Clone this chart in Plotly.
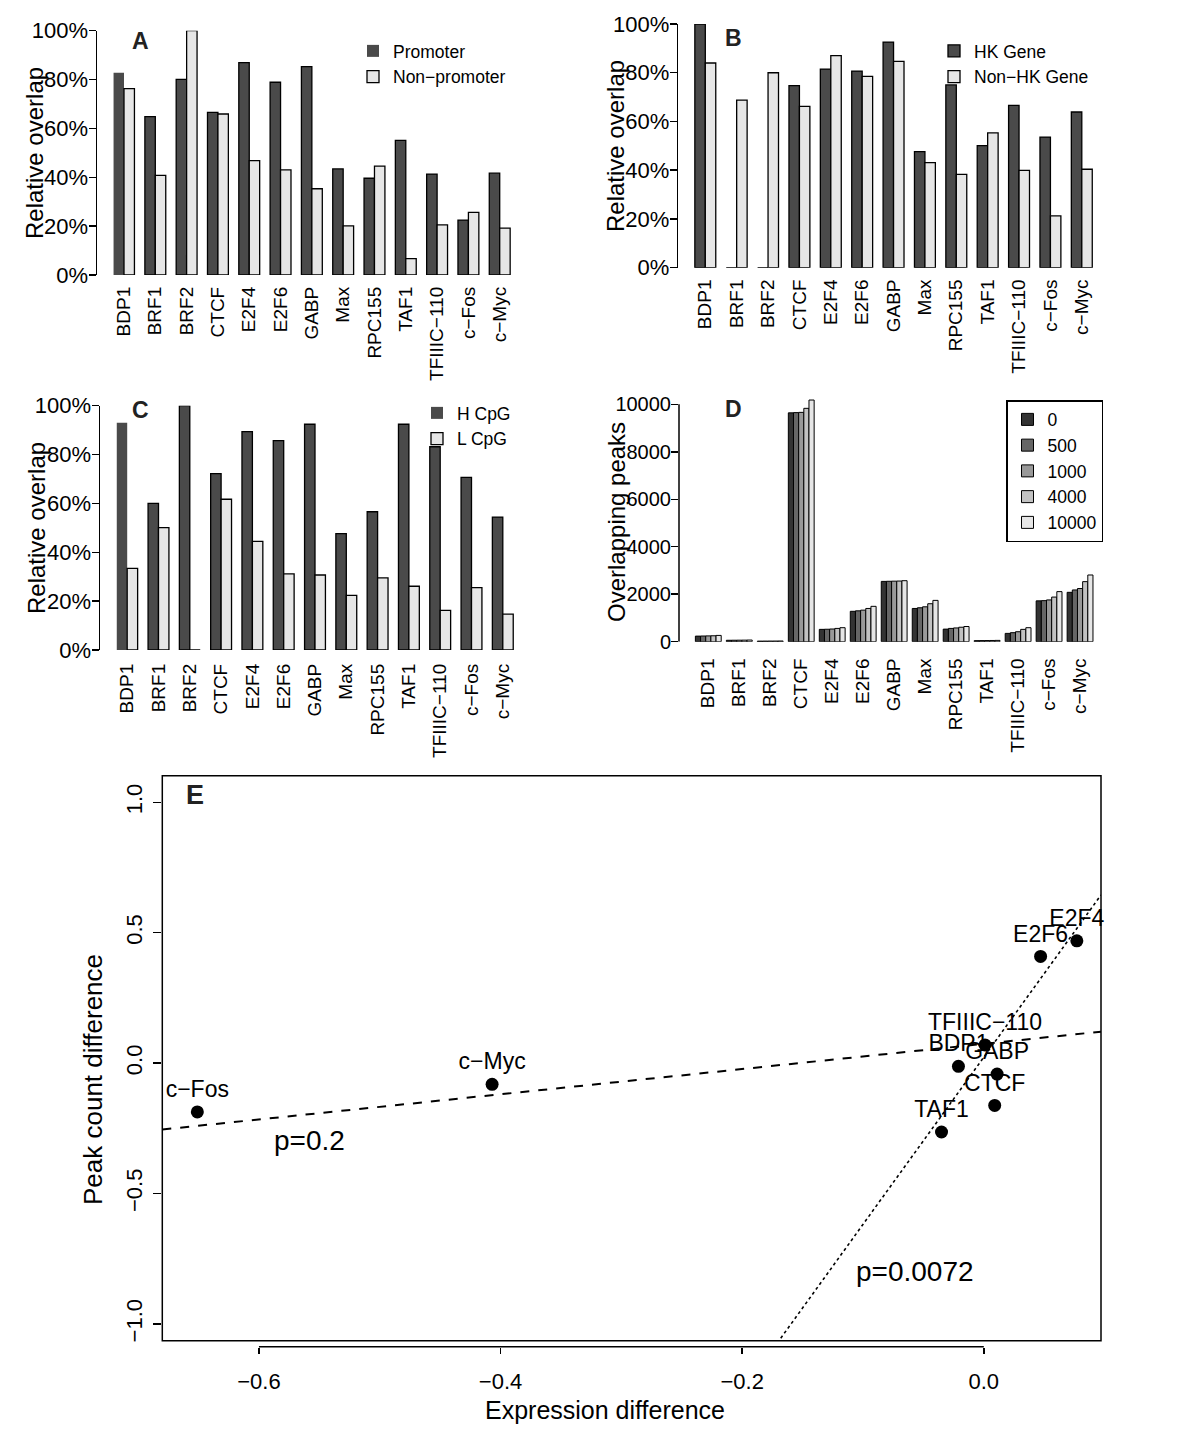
import plotly.graph_objects as go

W, H = 1200, 1454
FONT = "Liberation Sans, Arial, Helvetica, sans-serif"

# ---------------- data ----------------
factors = ["BDP1", "BRF1", "BRF2", "CTCF", "E2F4", "E2F6", "GABP", "Max",
           "RPC155", "TAF1", "TFIIIC−110", "c−Fos", "c−Myc"]

# Panel A
promoter = [82.8, 64.8, 80.1, 66.6, 86.9, 78.9, 85.3, 43.4, 39.6, 55.1, 41.3, 22.5, 41.7]
non_promoter = [76.3, 40.8, 100.0, 65.9, 46.8, 43.0, 35.3, 20.1, 44.6, 6.7, 20.5, 25.6, 19.2]
# Panel B
hk_gene = [100.0, 0, 0, 74.7, 81.5, 80.7, 92.6, 47.6, 75.0, 50.1, 66.6, 53.6, 63.9]
non_hk_gene = [84.0, 68.8, 80.0, 66.2, 87.0, 78.5, 84.7, 43.1, 38.3, 55.3, 39.9, 21.3, 40.4]
# Panel C
h_cpg = [93.0, 60.0, 100.0, 72.2, 89.4, 85.7, 92.4, 47.6, 56.6, 92.4, 83.2, 70.7, 54.4]
l_cpg = [33.4, 50.1, 0, 61.7, 44.5, 31.2, 30.7, 22.4, 29.5, 26.1, 16.2, 25.5, 14.7]
# Panel D (overlapping peaks by window size)
windows = ["0", "500", "1000", "4000", "10000"]
peaks_0 = [235, 60, 25, 9640, 520, 1280, 2540, 1400, 530, 45, 350, 1720, 2080]
peaks_500 = [240, 62, 26, 9650, 525, 1300, 2545, 1430, 560, 47, 380, 1730, 2180]
peaks_1000 = [245, 64, 27, 9660, 535, 1330, 2550, 1470, 580, 49, 420, 1760, 2240]
peaks_4000 = [250, 66, 28, 9830, 560, 1400, 2555, 1600, 610, 52, 520, 1880, 2530]
peaks_10000 = [265, 70, 30, 10180, 590, 1490, 2570, 1740, 640, 55, 590, 2110, 2810]
peaks_by_window = [peaks_0, peaks_500, peaks_1000, peaks_4000, peaks_10000]
# Panel E
e_factors = ["c−Fos", "c−Myc", "E2F4", "E2F6", "TFIIIC−110", "BDP1", "GABP", "CTCF", "TAF1"]
expr_diff = [-0.651, -0.407, 0.077, 0.047, 0.001, -0.021, 0.011, 0.009, -0.035]
peak_diff = [-0.187, -0.081, 0.469, 0.409, 0.070, -0.012, -0.042, -0.162, -0.264]
fit_all = (0.074, 0.483)    # intercept, slope (dashed, p=0.2)
fit_sub = (0.023, 6.41)     # intercept, slope (dotted, p=0.0072)
p_labels = ["p=0.2", "p=0.0072"]
p_pos_x = [-0.558, -0.057]
p_pos_y = [-0.295, -0.797]
pct_ticks = [0, 20, 40, 60, 80, 100]
pct_text = [f"{v}%" for v in pct_ticks]
peak_ticks = [0, 2000, 4000, 6000, 8000, 10000]
e_xticks = [-0.6, -0.4, -0.2, 0.0]
e_yticks = [-1.0, -0.5, 0.0, 0.5, 1.0]

DARK = "#4A4A4A"
LIGHT = "#E6E6E6"
D_COLORS = ["#333333", "#666666", "#999999", "#C2C2C2", "#E6E6E6"]


def px_x(p):
    return p / W


def px_y(p):
    return 1 - p / H


fig = go.Figure()

# ---------------- bar panels A-C ----------------
panels = [
    ("", promoter, non_promoter, "Promoter", "Non−promoter", "legend"),
    ("2", hk_gene, non_hk_gene, "HK Gene", "Non−HK Gene", "legend2"),
    ("3", h_cpg, l_cpg, "H CpG", "L CpG", "legend3"),
]
bw = 1 / 3
for suf, s1, s2, n1, n2, lg in panels:
    lw1 = [1.3] * len(factors)
    if suf in ("", "3"):
        lw1[0] = 0
    fig.add_trace(go.Bar(x=factors, y=s1, name=n1, width=bw, offset=-bw,
                         marker=dict(color=DARK, line=dict(color="black", width=lw1)),
                         xaxis="x" + suf, yaxis="y" + suf, legend=lg, hoverinfo="skip"))
    fig.add_trace(go.Bar(x=factors, y=s2, name=n2, width=bw, offset=0,
                         marker=dict(color=LIGHT, line=dict(color="black", width=1.3)),
                         xaxis="x" + suf, yaxis="y" + suf, legend=lg, hoverinfo="skip"))

# ---------------- panel D ----------------
wd = 1 / 6
for k, (wname, vals) in enumerate(zip(windows, peaks_by_window)):
    fig.add_trace(go.Bar(x=factors, y=vals, name=wname, width=wd, offset=-2.5 * wd + k * wd,
                         marker=dict(color=D_COLORS[k], line=dict(color="black", width=1.0)),
                         xaxis="x4", yaxis="y4", legend="legend4", hoverinfo="skip"))

# ---------------- panel E ----------------
E_XR = [-0.680, 0.097]
E_YR = [-1.064, 1.102]
for (a, b), dash, lw in [(fit_all, "dash", 2.0), (fit_sub, "dot", 1.6)]:
    fig.add_trace(go.Scatter(x=E_XR, y=[a + b * E_XR[0], a + b * E_XR[1]], mode="lines",
                             line=dict(color="black", dash=dash, width=lw),
                             xaxis="x5", yaxis="y5", showlegend=False, hoverinfo="skip"))
fig.add_trace(go.Scatter(x=expr_diff, y=peak_diff, mode="markers+text", text=e_factors,
                         textposition="top center", textfont=dict(size=23, color="black"),
                         marker=dict(color="black", size=13),
                         xaxis="x5", yaxis="y5", showlegend=False, cliponaxis=False,
                         hoverinfo="skip"))


# ---------------- axes ----------------
def cat_axis(c0, pitch, left, right):
    return dict(domain=[px_x(left), px_x(right)],
                range=[(left - c0) / pitch, (right - c0) / pitch])


tickfont_cat = dict(size=19, color="black", family=FONT)
cat_common = dict(type="category", showline=False, ticks="", tickangle=-90,
                  tickfont=tickfont_cat, showgrid=False, zeroline=False, automargin=False)
pct_common = dict(range=[0, 100], tickvals=pct_ticks, ticktext=pct_text, showline=True,
                  linecolor="black", linewidth=1.5, ticks="outside", ticklen=7, tickwidth=1.5,
                  tickcolor="black", tickfont=dict(size=22, color="black"), showgrid=False,
                  zeroline=False, automargin=False, ticklabelstandoff=-4)

ax = cat_axis(124.0, 31.31, 97, 535)
fig.update_layout(xaxis=dict(**cat_common, **ax, anchor="y", ticklabelstandoff=7))
fig.update_layout(yaxis=dict(**pct_common, domain=[px_y(275), px_y(30.7)], anchor="x"))

ax = cat_axis(705.3, 31.375, 678.3, 1120)
fig.update_layout(xaxis2=dict(**cat_common, **ax, anchor="y2", ticklabelstandoff=7))
fig.update_layout(yaxis2=dict(**pct_common, domain=[px_y(267.7), px_y(24)], anchor="x2"))

ax = cat_axis(127.2, 31.3, 100, 535)
fig.update_layout(xaxis3=dict(**cat_common, **ax, anchor="y3", ticklabelstandoff=9))
fig.update_layout(yaxis3=dict(**pct_common, domain=[px_y(650), px_y(405.7)], anchor="x3"))

ax = cat_axis(708.3, 30.98, 679, 1120)
fig.update_layout(xaxis4=dict(**cat_common, **ax, anchor="y4", ticklabelstandoff=12))
D_TOP = 10500
fig.update_layout(yaxis4=dict(range=[0, D_TOP], tickvals=peak_ticks, tickformat="d",
                              showline=False, ticks="outside", ticklen=7, tickwidth=1.5,
                              tickcolor="black", tickfont=dict(size=20, color="black"),
                              showgrid=False, zeroline=False, automargin=False,
                              ticklabelstandoff=-4,
                              domain=[px_y(641.7), px_y(641.7 - D_TOP * 0.02374)],
                              anchor="x4"))

fig.update_layout(
    xaxis5=dict(domain=[px_x(162.3), px_x(1101)], range=E_XR, anchor="free",
                position=px_y(1346.7), showline=False, ticks="outside", ticklen=6.5,
                tickwidth=1.5, tickcolor="black", tickvals=e_xticks, tickformat=".1f",
                tickfont=dict(size=22, color="black"), ticklabelstandoff=8,
                showgrid=False, zeroline=False, automargin=False),
    yaxis5=dict(domain=[px_y(1340.7), px_y(775.7)], range=E_YR, anchor="x5",
                showline=False, ticks="outside", ticklen=8, tickwidth=1.5, tickcolor="black",
                tickvals=e_yticks, tickformat=".1f", tickangle=-90, ticklabelstandoff=3,
                tickfont=dict(size=22, color="black"), showgrid=False, zeroline=False,
                automargin=False),
)

shapes = [
    dict(type="line", xref="x4 domain", yref="y4", x0=0, x1=0, y0=peak_ticks[0],
         y1=peak_ticks[-1], line=dict(color="black", width=1.5)),
    dict(type="rect", xref="x5 domain", yref="y5 domain", x0=0, x1=1, y0=0, y1=1,
         line=dict(color="black", width=1.5)),
    dict(type="line", xref="x5", yref="paper", x0=e_xticks[0], x1=e_xticks[-1],
         y0=px_y(1346.7), y1=px_y(1346.7), line=dict(color="black", width=1.5)),
]

annotations = []
for letter, xx, yy, sz in [("A", 140.7, 40.7, 23), ("B", 733.3, 38.3, 23),
                           ("C", 140.0, 410.0, 23), ("D", 733.3, 409.3, 23),
                           ("E", 195.3, 795.0, 27)]:
    annotations.append(dict(text="<b>" + letter + "</b>", x=px_x(xx), y=px_y(yy),
                            xref="paper", yref="paper", showarrow=False,
                            xanchor="center", yanchor="middle",
                            font=dict(size=sz, color="#222222")))
for txt, xx, yy, sz, ang in [("Relative overlap", 34, 153, 24, -90),
                             ("Relative overlap", 616, 146, 24, -90),
                             ("Relative overlap", 36, 528, 24, -90),
                             ("Overlapping peaks", 616, 522, 24, -90),
                             ("Peak count difference", 93, 1080, 26, -90),
                             ("Expression difference", 605, 1410, 25, 0)]:
    annotations.append(dict(text=txt, x=px_x(xx), y=px_y(yy), xref="paper", yref="paper",
                            showarrow=False, xanchor="center", yanchor="middle",
                            textangle=ang, font=dict(size=sz, color="black")))
for t, xx, yy in zip(p_labels, p_pos_x, p_pos_y):
    annotations.append(dict(text=t, x=xx, y=yy, xref="x5", yref="y5", showarrow=False,
                            xanchor="center", yanchor="middle",
                            font=dict(size=28, color="black")))

leg_common = dict(bgcolor="rgba(0,0,0,0)", font=dict(size=17.5, color="black"),
                  itemwidth=30, xanchor="left", yanchor="top", tracegroupgap=0,
                  traceorder="normal", itemclick=False, itemdoubleclick=False)

fig.update_layout(
    width=W, height=H, margin=dict(l=0, r=0, t=0, b=0, autoexpand=False),
    paper_bgcolor="white", plot_bgcolor="white",
    font=dict(family=FONT, color="black"),
    barmode="overlay",
    showlegend=True,
    legend=dict(**leg_common, x=px_x(353), y=px_y(33)),
    legend2=dict(**leg_common, x=px_x(934), y=px_y(33)),
    legend3=dict(**leg_common, x=px_x(417), y=px_y(395)),
    legend4=dict(**leg_common, x=px_x(1006), y=px_y(400), bordercolor="black",
                 borderwidth=1.5),
    shapes=shapes,
    annotations=annotations,
)

fig.write_html("out.html", config={"staticPlot": True},
               post_script="document.body.style.margin='0px';")
